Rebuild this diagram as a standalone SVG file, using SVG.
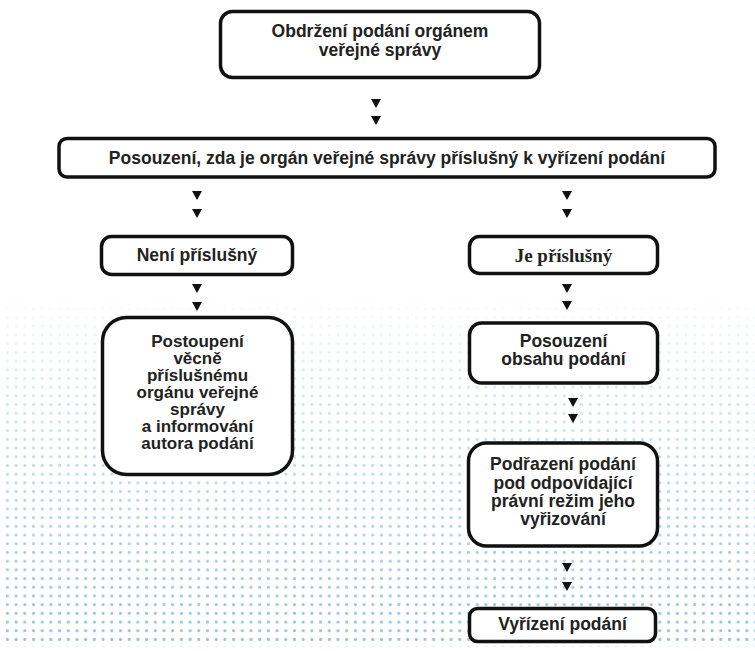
<svg xmlns="http://www.w3.org/2000/svg" width="755" height="651" viewBox="0 0 755 651">
  <style>
    .box { fill: #ffffff; stroke: #111111; stroke-width: 3.5; }
    .t { font-family: "Liberation Sans", Arial, sans-serif; font-weight: bold; font-size: 17.5px; fill: #222222; text-anchor: middle; }
    .tn { font-family: "Liberation Sans", Arial, sans-serif; font-weight: bold; font-size: 17px; fill: #222222; text-anchor: middle; }
    .ts { font-family: "Liberation Serif", "Times New Roman", serif; font-weight: bold; font-size: 19px; fill: #222222; text-anchor: middle; }
    .arr { fill: #111111; }
  </style>
  <defs>
    <path id="tri" d="M-5 0H5L0 9Z"/>
    <pattern id="dots" x="3" y="0" width="8.7" height="8.7" patternUnits="userSpaceOnUse">
      <rect x="2.9" y="2.9" width="3" height="3" rx="1" fill="#90c2de"/>
    </pattern>
    <linearGradient id="fadeGrad" x1="0" y1="0" x2="0" y2="1">
      <stop offset="0" stop-color="#ffffff" stop-opacity="0"/>
      <stop offset="0.3" stop-color="#ffffff" stop-opacity="0.4"/>
      <stop offset="1" stop-color="#ffffff" stop-opacity="1"/>
    </linearGradient>
    <mask id="fade" maskUnits="userSpaceOnUse" x="0" y="0" width="755" height="651">
      <rect x="0" y="292" width="755" height="355" fill="url(#fadeGrad)"/>
    </mask>
  </defs>

  <rect x="0" y="0" width="755" height="651" fill="#ffffff"/>
  <rect x="6" y="292" width="749" height="355" fill="url(#dots)" mask="url(#fade)"/>

  <g id="connectors">
    <use href="#tri" class="arr" x="376" y="99"/>
    <use href="#tri" class="arr" x="376" y="116"/>
    <use href="#tri" class="arr" x="197" y="191"/>
    <use href="#tri" class="arr" x="197" y="209"/>
    <use href="#tri" class="arr" x="567" y="191"/>
    <use href="#tri" class="arr" x="567" y="209"/>
    <use href="#tri" class="arr" x="197" y="284"/>
    <use href="#tri" class="arr" x="197" y="302"/>
    <use href="#tri" class="arr" x="567" y="284"/>
    <use href="#tri" class="arr" x="567" y="301"/>
    <use href="#tri" class="arr" x="573" y="398"/>
    <use href="#tri" class="arr" x="573" y="414"/>
    <use href="#tri" class="arr" x="567" y="563"/>
    <use href="#tri" class="arr" x="567" y="582"/>
  </g>

  <g id="n1">
    <rect class="box" x="220.5" y="11.5" width="319" height="66" rx="12"/>
    <text class="t" x="380" y="37">Obdržení podání orgánem</text>
    <text class="t" x="380" y="56">veřejné správy</text>
  </g>

  <g id="n2">
    <rect class="box" x="59" y="138.5" width="656" height="38.5" rx="8"/>
    <text class="t" x="387" y="164">Posouzení, zda je orgán veřejné správy příslušný k vyřízení podání</text>
  </g>

  <g id="n3">
    <rect class="box" x="101.5" y="236.5" width="191" height="38" rx="10"/>
    <text class="t" x="197" y="261">Není příslušný</text>
  </g>

  <g id="n4">
    <rect class="box" x="102.5" y="317.5" width="190" height="157" rx="24"/>
    <text class="tn" x="197.5" y="347">Postoupení</text>
    <text class="tn" x="197.5" y="364">věcně</text>
    <text class="tn" x="197.5" y="381">příslušnému</text>
    <text class="tn" x="197.5" y="398">orgánu veřejné</text>
    <text class="tn" x="197.5" y="415">správy</text>
    <text class="tn" x="197.5" y="432">a informování</text>
    <text class="tn" x="197.5" y="449">autora podání</text>
  </g>

  <g id="n5">
    <rect class="box" x="469.5" y="236.5" width="188" height="37" rx="10"/>
    <text class="ts" x="563.5" y="262">Je příslušný</text>
  </g>

  <g id="n6">
    <rect class="box" x="469.5" y="323" width="188" height="60" rx="12"/>
    <text class="t" x="563.5" y="347">Posouzení</text>
    <text class="t" x="563.5" y="365">obsahu podání</text>
  </g>

  <g id="n7">
    <rect class="box" x="468.5" y="443" width="189" height="103" rx="18"/>
    <text class="t" x="563" y="470">Podřazení podání</text>
    <text class="t" x="563" y="488.5">pod odpovídající</text>
    <text class="t" x="563" y="507">právní režim jeho</text>
    <text class="t" x="563" y="525">vyřizování</text>
  </g>

  <g id="n8">
    <rect class="box" x="469.5" y="608.5" width="186" height="33" rx="8"/>
    <text class="t" x="562.5" y="630">Vyřízení podání</text>
  </g>
</svg>
